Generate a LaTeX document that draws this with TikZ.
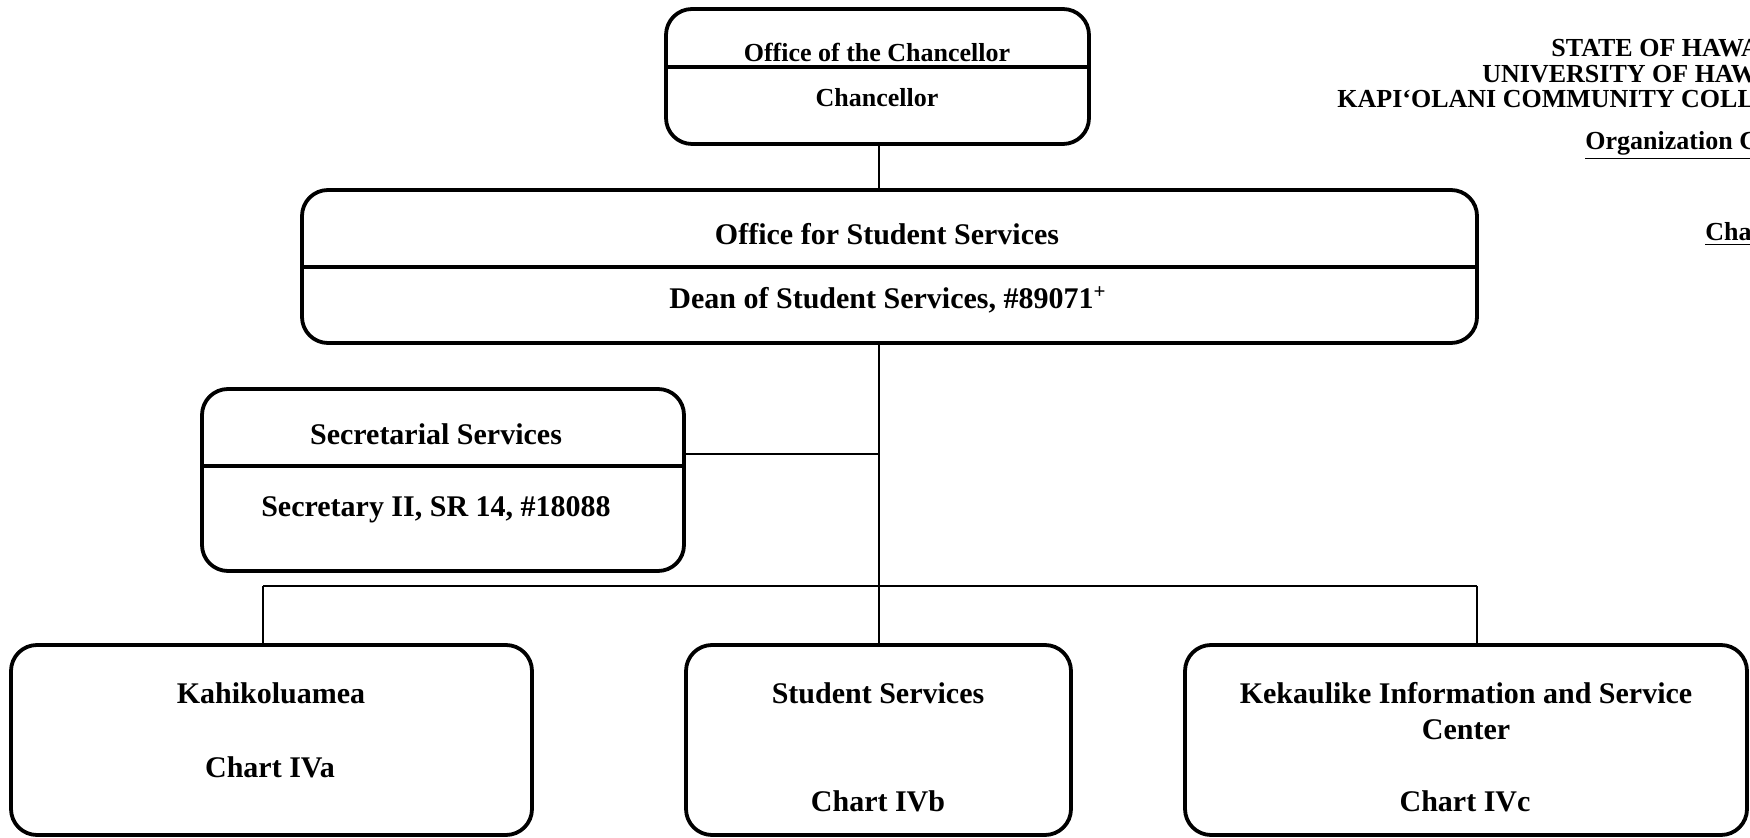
\documentclass[tikz,border=0pt]{standalone}
\usepackage{fontspec}
\setmainfont{Liberation Serif}
\begin{document}
\begin{tikzpicture}[x=0.5pt,y=-0.5pt]
\tikzset{
 box/.style={draw, line width=1.9pt, rounded corners=13pt, inner sep=0pt},
 lbl/.style={font=\fontsize{15}{18}\selectfont\bfseries, inner sep=0pt, align=center, text height=10pt, text depth=3pt, yshift=-2pt},
 smlbl/.style={font=\fontsize{13}{16}\selectfont\bfseries, inner sep=0pt, align=center, text height=9pt, text depth=3pt, yshift=-2pt},
 hdr/.style={font=\fontsize{13}{16}\selectfont\bfseries, inner sep=0pt, anchor=west, text height=9pt, text depth=3pt, yshift=-2pt},
 conn/.style={line width=1.3pt},
 divider/.style={line width=1.6pt},
}
\useasboundingbox (0,0) rectangle (1750,838);
\clip (0,0) rectangle (1750,838);

% header
\node[hdr] (h1) at (1551,47) {STATE OF HAWAII};
\node[hdr] (h2) at (1482,73) {UNIVERSITY OF HAWAII};
\node[hdr] (h3) at (1337,98) {KAPI‘OLANI COMMUNITY COLLEGE};
\node[hdr] (h4) at (1585,140) {\underline{Organization Chart}};
\node[hdr] (h5) at (1705,231) {\underline{Chart IV}};

% boxes
\node[box, minimum width=211.5pt, minimum height=67.5pt] (chan) at (877.5,76.5) {};
\node[box, minimum width=587.5pt, minimum height=76.5pt] (oss) at (889.5,266.5) {};
\node[box, minimum width=241pt, minimum height=91pt] (sec) at (443,480) {};
\node[box, minimum width=260.5pt, minimum height=95pt] (kah) at (271.5,740) {};
\node[box, minimum width=192.5pt, minimum height=95pt] (ss) at (878.5,740) {};
\node[box, minimum width=281pt, minimum height=95pt] (kek) at (1466,740) {};

% dividers
\coordinate (dchan) at (0,67);
\coordinate (doss) at (0,267);
\coordinate (dsec) at (0,466);
\draw[divider] (chan.west |- dchan) -- (chan.east |- dchan);
\draw[divider] (oss.west |- doss) -- (oss.east |- doss);
\draw[divider] (sec.west |- dsec) -- (sec.east |- dsec);

% texts
\node[smlbl] (t1) at (877,52) {Office of the Chancellor};
\node[smlbl] (t2) at (877,97) {Chancellor};
\node[lbl] (t3) at (887,234) {Office for Student Services};
\node[lbl] (t4) at (888,298) {Dean of Student Services, \#89071\textsuperscript{+}};
\node[lbl] (t5) at (436,434) {Secretarial Services};
\node[lbl] (t6) at (436,506) {Secretary II, SR 14, \#18088};
\node[lbl] (t7) at (271,693) {Kahikoluamea};
\node[lbl] (t8) at (270,766) {Chart IVa};
\node[lbl] (t9) at (878,693) {Student Services};
\node[lbl] (t10) at (878,800) {Chart IVb};
\node[lbl] (t11) at (1466,693) {Kekaulike Information and Service};
\node[lbl] (t12) at (1466,729) {Center};
\node[lbl] (t13) at (1465,800) {Chart IVc};

% connectors
\coordinate (bus) at (879,586);
\coordinate (busL) at (263,586);
\coordinate (busR) at (1477,586);
\coordinate (secj) at (879,454);
\draw[conn] (bus |- chan.south) -- (bus |- oss.north);
\draw[conn] (bus |- oss.south) -- (bus);
\draw[conn] (secj -| sec.east) -- (secj);
\draw[conn] (busL) -- (busR);
\draw[conn] (busL) -- (busL |- kah.north);
\draw[conn] (bus) -- (bus |- ss.north);
\draw[conn] (busR) -- (busR |- kek.north);
\end{tikzpicture}
\end{document}
